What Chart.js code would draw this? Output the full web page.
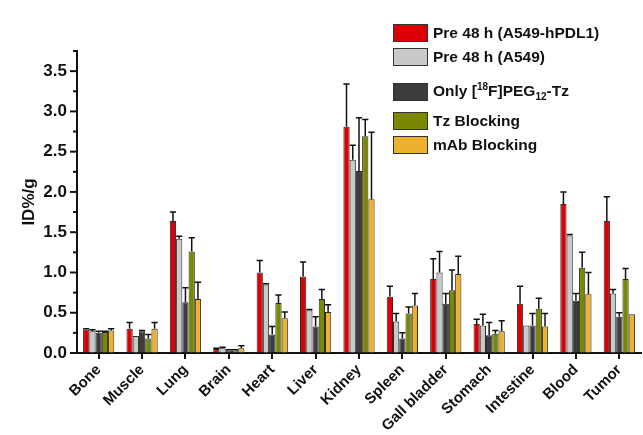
<!DOCTYPE html>
<html>
<head>
<meta charset="utf-8">
<script src="https://cdn.jsdelivr.net/npm/chart.js@4.4.1/dist/chart.umd.min.js"></script>
<style>
  html, body { margin: 0; padding: 0; background: #ffffff; }
  #wrap { position: relative; width: 643px; height: 435px; font-family: 'Liberation Sans', Arial, sans-serif; }
  #legend { position: absolute; left: 0; top: 0; width: 643px; height: 0; }
  .row { position: absolute; left: 393px; height: 18px; display: flex; align-items: center; }
  .sw { width: 33px; height: 16px; border: 1.5px solid #333; box-sizing: content-box; margin-right: 5px; }
  .lt { font-weight: bold; font-size: 15.5px; color: #111; white-space: nowrap; }
  .lt sup, .lt sub { font-size: 10px; }
</style>
</head>
<body>
<div id="wrap">
  <canvas id="c" width="643" height="435"></canvas>
  <div id="legend"></div>
</div>
<script>
const categories = ['Bone','Muscle','Lung','Brain','Heart','Liver','Kidney','Spleen','Gall bladder','Stomach','Intestine','Blood','Tumor'];

const seriesNames = ['Pre 48 h (A549-hPDL1)', 'Pre 48 h (A549)', 'Only [<sup>18</sup>F]PEG<sub>12</sub>-Tz', 'Tz Blocking', 'mAb Blocking'];
const seriesLabels = ['Pre 48 h (A549-hPDL1)', 'Pre 48 h (A549)', 'Only [18F]PEG12-Tz', 'Tz Blocking', 'mAb Blocking'];

const preHPDL1    = [0.29, 0.30, 1.64, 0.05, 1.00, 0.95, 2.81, 0.70, 0.92, 0.36, 0.61, 1.85, 1.64];
const preHPDL1Err = [0.01, 0.08, 0.11, 0.01, 0.15, 0.18, 0.53, 0.13, 0.25, 0.06, 0.22, 0.15, 0.30];

const preA549     = [0.27, 0.21, 1.42, 0.06, 0.85, 0.53, 2.40, 0.39, 1.00, 0.34, 0.34, 1.46, 0.74];
const preA549Err  = [0.02, 0.00, 0.03, 0.01, 0.01, 0.01, 0.18, 0.10, 0.26, 0.14, 0.00, 0.01, 0.05];

const onlyPEG     = [0.25, 0.27, 0.63, 0.03, 0.23, 0.33, 2.26, 0.18, 0.61, 0.22, 0.34, 0.65, 0.45];
const onlyPEGErr  = [0.02, 0.01, 0.18, 0.01, 0.10, 0.12, 0.66, 0.07, 0.13, 0.16, 0.15, 0.09, 0.05];

const tzBlock     = [0.26, 0.18, 1.26, 0.03, 0.62, 0.67, 2.69, 0.49, 0.78, 0.24, 0.55, 1.06, 0.92];
const tzBlockErr  = [0.01, 0.05, 0.17, 0.01, 0.10, 0.12, 0.21, 0.08, 0.25, 0.04, 0.13, 0.19, 0.13];

const mAbBlock    = [0.28, 0.30, 0.67, 0.06, 0.43, 0.51, 1.91, 0.59, 0.98, 0.27, 0.33, 0.73, 0.48];
const mAbBlockErr = [0.02, 0.08, 0.21, 0.03, 0.08, 0.09, 0.83, 0.15, 0.22, 0.13, 0.16, 0.27, 0.00];

const yTickValues = [0.0, 0.5, 1.0, 1.5, 2.0, 2.5, 3.0, 3.5];
const yMinorValues = [0.25, 0.75, 1.25, 1.75, 2.25, 2.75, 3.25, 3.75];

const colors = ['#dc0006', '#c9c9c9', '#3d3d3d', '#7a8800', '#eeb12e'];
const values = [preHPDL1, preA549, onlyPEG, tzBlock, mAbBlock];
const errors = [preHPDL1Err, preA549Err, onlyPEGErr, tzBlockErr, mAbBlockErr];

const FONT = "'Liberation Sans', Arial, sans-serif";

const datasets = values.map((v, i) => ({
  label: seriesLabels[i],
  data: v,
  errors: errors[i],
  backgroundColor: colors[i],
  borderColor: '#2a2a2a',
  borderWidth: 1,
  categoryPercentage: 0.72,
  barPercentage: 1.0
}));

const errorBars = {
  id: 'errorBars',
  afterDatasetsDraw(chart) {
    const ctx = chart.ctx;
    const ys = chart.scales.y;
    ctx.save();
    ctx.strokeStyle = '#111';
    ctx.lineWidth = 1.5;
    chart.data.datasets.forEach((ds, i) => {
      const meta = chart.getDatasetMeta(i);
      meta.data.forEach((bar, j) => {
        const e = ds.errors[j];
        if (!e) return;
        const top = ys.getPixelForValue(ds.data[j] + e);
        const half = bar.width / 2;
        ctx.beginPath();
        ctx.moveTo(bar.x, bar.y);
        ctx.lineTo(bar.x, top);
        ctx.moveTo(bar.x - half, top);
        ctx.lineTo(bar.x + half, top);
        ctx.stroke();
      });
    });
    ctx.restore();
  }
};

const yTicksPlugin = {
  id: 'yTicksPlugin',
  afterDraw(chart) {
    const ctx = chart.ctx;
    const ys = chart.scales.y;
    const x0 = chart.chartArea.left;
    ctx.save();
    ctx.strokeStyle = '#111';
    ctx.lineWidth = 2;
    yTickValues.forEach(v => {
      const y = ys.getPixelForValue(v);
      ctx.beginPath(); ctx.moveTo(x0 - 7, y); ctx.lineTo(x0, y); ctx.stroke();
    });
    yMinorValues.forEach(v => {
      const y = ys.getPixelForValue(v);
      ctx.beginPath(); ctx.moveTo(x0 - 4, y); ctx.lineTo(x0, y); ctx.stroke();
    });
    ctx.restore();
  }
};

new Chart(document.getElementById('c'), {
  type: 'bar',
  data: { labels: categories, datasets },
  plugins: [errorBars, yTicksPlugin],
  options: {
    responsive: false,
    animation: false,
    layout: { padding: { top: 51, right: 2, left: 0, bottom: 0 } },
    plugins: { legend: { display: false }, tooltip: { enabled: false } },
    scales: {
      x: {
        afterFit(scale) { scale.height = 82; },
        grid: { display: true, offset: false, drawOnChartArea: false, drawTicks: true, tickLength: 6, color: '#111', lineWidth: 2 },
        border: { display: true, color: '#111', width: 2 },
        ticks: {
          minRotation: 45, maxRotation: 45, autoSkip: false, padding: 2,
          color: '#111', font: { family: FONT, size: 15, weight: 'bold' }
        }
      },
      y: {
        min: 0, max: 3.75,
        afterFit(scale) { scale.width = 77; },
        afterBuildTicks(scale) { scale.ticks = yTickValues.map(v => ({ value: v })); },
        grid: { display: true, drawOnChartArea: false, drawTicks: false, color: 'rgba(0,0,0,0)' },
        border: { display: true, color: '#111', width: 2 },
        title: { display: true, text: 'ID%/g', color: '#111', padding: { top: 19, bottom: 0 }, font: { family: FONT, size: 17, weight: 'bold' } },
        ticks: {
          padding: 10, color: '#111',
          font: { family: FONT, size: 17, weight: 'bold' },
          callback: v => Number(v).toFixed(1)
        }
      }
    }
  }
});

const legend = document.getElementById('legend');
const rowTops = [24, 48, 83, 112, 136];
seriesNames.forEach((name, i) => {
  const r = document.createElement('div');
  r.className = 'row';
  r.style.top = rowTops[i] + 'px';
  r.innerHTML = '<div class="sw" style="background:' + colors[i] + '"></div><div class="lt">' + name + '</div>';
  legend.appendChild(r);
});
</script>
</body>
</html>
